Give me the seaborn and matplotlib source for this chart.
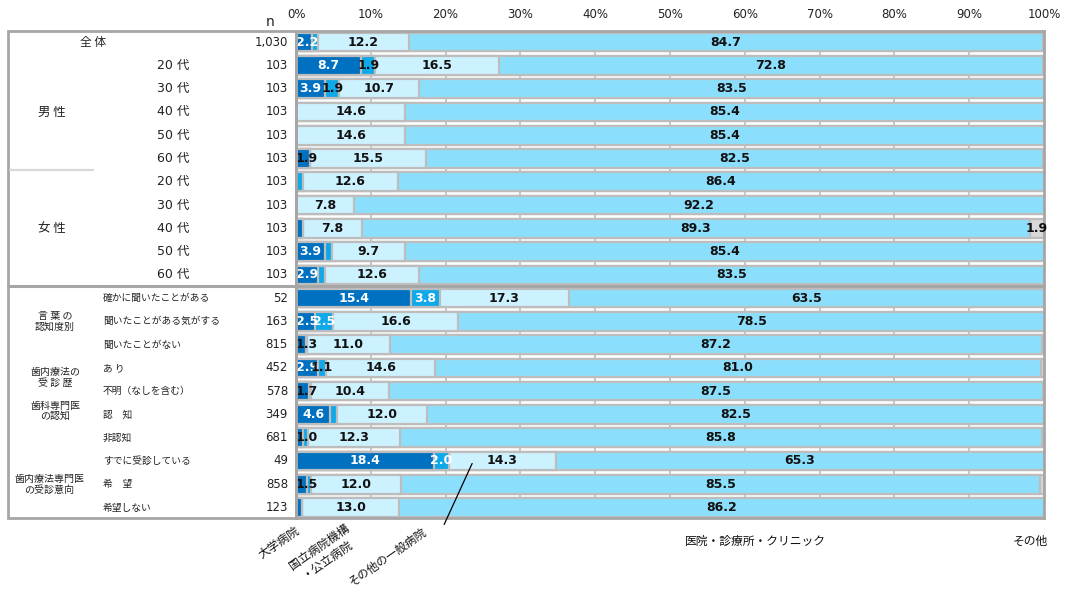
import numpy as np
import pandas as pd
import seaborn as sns
import matplotlib.pyplot as plt
from matplotlib.lines import Line2D
from matplotlib.patches import Rectangle
from matplotlib.transforms import blended_transform_factory

# ---- data -------------------------------------------------------------
segments = ["大学病院", "国立病院機構・公立病院", "その他の一般病院",
            "医院・診療所・クリニック", "その他"]

row_labels = ["全 体",
              "20 代", "30 代", "40 代", "50 代", "60 代",
              "20 代", "30 代", "40 代", "50 代", "60 代",
              "確かに聞いたことがある", "聞いたことがある気がする", "聞いたことがない",
              "あ り", "不明（なしを含む）",
              "認　知", "非認知",
              "すでに受診している", "希　望", "希望しない"]

n_values = ["1,030", "103", "103", "103", "103", "103",
            "103", "103", "103", "103", "103",
            "52", "163", "815", "452", "578", "349", "681", "49", "858", "123"]

univ = [2.2, 8.7, 3.9, 0, 0, 1.9, 0, 0, 0.97, 3.9, 2.9,
        15.4, 2.5, 1.3, 2.9, 1.7, 4.6, 1.0, 18.4, 1.5, 0.8]
natl = [0.7, 1.9, 1.9, 0, 0, 0, 0.97, 0, 0, 0.97, 0.97,
        3.8, 2.5, 0.2, 1.1, 0.3, 0.9, 0.6, 2.0, 0.5, 0]
general = [12.2, 16.5, 10.7, 14.6, 14.6, 15.5, 12.6, 7.8, 7.8, 9.7, 12.6,
           17.3, 16.6, 11.0, 14.6, 10.4, 12.0, 12.3, 14.3, 12.0, 13.0]
clinic = [84.7, 72.8, 83.5, 85.4, 85.4, 82.5, 86.4, 92.2, 89.3, 85.4, 83.5,
          63.5, 78.5, 87.2, 81.0, 87.5, 82.5, 85.8, 65.3, 85.5, 86.2]
other = [0.2, 0, 0, 0, 0, 0, 0, 0, 1.9, 0, 0,
         0, 0, 0.3, 0.4, 0, 0, 0.3, 0, 0.5, 0]

tick_labels = ["0%", "10%", "20%", "30%", "40%", "50%",
               "60%", "70%", "80%", "90%", "100%"]

colors = ["#0070C0", "#0FA8E8", "#CCF1FF", "#8CDFFC", "#D9D9D9"]
edge = "#BDBDBD"
frame = "#A6A6A6"

# ---- figure -----------------------------------------------------------
sns.set_theme(style="white")
plt.rcParams["font.family"] = ["Noto Sans CJK JP", "DejaVu Sans"]
num_font = ["DejaVu Sans", "Noto Sans CJK JP"]

W, H = 1069, 590
fig = plt.figure(figsize=(W / 100, H / 100), dpi=100)
ax = fig.add_axes([296 / W, 1 - 518 / H, (1044 - 296) / W, (518 - 31) / H])


def fx(px):
    return px / W


def fy(py):
    return 1 - py / H


df = pd.DataFrame({"row": np.arange(len(row_labels)),
                   segments[0]: univ, segments[1]: natl, segments[2]: general,
                   segments[3]: clinic, segments[4]: other})
vals = df[segments].to_numpy()
cum = vals.cumsum(axis=1)

# grid behind the bars
for xv in range(10, 100, 10):
    ax.axvline(xv, color=edge, lw=1.2, zorder=0)

# stacked bars: draw cumulative totals from the outermost segment inward
for k in range(len(segments) - 1, -1, -1):
    sns.barplot(x=cum[:, k], y=df["row"].astype(str), orient="h",
                order=df["row"].astype(str).tolist(),
                color=colors[k], saturation=1, errorbar=None, width=0.8,
                edgecolor=edge, linewidth=1.6, ax=ax, zorder=2)

# value labels (kept inside the plotting area at the left edge)
min_center = 1.45
for i in range(len(df)):
    left = 0.0
    for k in range(len(segments)):
        v = vals[i, k]
        if v >= 0.995:
            tc = "white" if (k < 2 and v >= 2.0) else "#111111"
            xc = max(left + v / 2, min_center)
            ax.text(xc, i, f"{v:.1f}", ha="center", va="center",
                    fontsize=9, fontweight="bold", color=tc,
                    family=num_font, zorder=5)
        left += v

ax.set_xlim(0, 100)
ax.set_ylim(len(df) - 0.55, -0.48)
ax.set_ylabel("")
ax.set_xlabel("")
ax.set_yticks([])
ax.xaxis.tick_top()
ax.set_xticks(np.arange(0, 101, 10))
ax.set_xticklabels(tick_labels, fontsize=8.5, family=num_font, color="#222222")
ax.tick_params(axis="x", length=0, pad=7)
for s in ax.spines.values():
    s.set_color(frame)
    s.set_linewidth(2)

# ---- left-hand table ---------------------------------------------------
tr = blended_transform_factory(fig.transFigure, ax.transData)
fig.add_artist(Rectangle((fx(8), fy(518)), fx(296) - fx(8), fy(31) - fy(518),
                         transform=fig.transFigure, fill=False,
                         edgecolor=frame, lw=2))
fig.add_artist(Line2D([fx(8), fx(1044)], [10.5, 10.5], transform=tr,
                      color=frame, lw=2.2))
fig.add_artist(Line2D([fx(10), fx(93)], [5.5, 5.5], transform=tr,
                      color="#D9D9D9", lw=1.6))

fig.text(fx(270), fy(22), "n", ha="center", va="center", fontsize=10,
         family=num_font, color="#222222")

for i, (lab, n) in enumerate(zip(row_labels, n_values)):
    fig.text(fx(288), i, n, transform=tr, ha="right", va="center",
             fontsize=8.5, family=num_font, color="#222222")
    if i == 0:
        fig.text(fx(93), i, lab, transform=tr, ha="center", va="center",
                 fontsize=8.5, color="#222222")
    elif i <= 10:
        fig.text(fx(157), i, lab, transform=tr, ha="left", va="center",
                 fontsize=9, family=num_font, color="#222222")
    else:
        fig.text(fx(103), i, lab, transform=tr, ha="left", va="center",
                 fontsize=7, color="#222222")

groups = [("男 性", 3, 52), ("女 性", 8, 52),
          ("言 葉 の\n認知度別", 12, 55), ("歯内療法の\n受 診 歴", 14.4, 55),
          ("歯科専門医\nの認知", 15.85, 55), ("歯内療法専門医\nの受診意向", 19, 49)]
for text, pos, xpx in groups:
    small = "\n" in text
    fig.text(fx(xpx), pos, text, transform=tr, ha="center", va="center",
             fontsize=7.2 if small else 9, linespacing=1.05, color="#222222")

# ---- segment names below the chart ------------------------------------
fig.text(fx(279), fy(543), "大学病院", rotation=35, ha="center", va="center",
         fontsize=8.5, color="#111111")
fig.text(fx(323), fy(553), "国立病院機構\n・公立病院", rotation=35, ha="center",
         va="center", fontsize=8.5, linespacing=1.1, color="#111111")
fig.text(fx(388), fy(557), "その他の一般病院", rotation=35, ha="center",
         va="center", fontsize=8.3, color="#111111")
fig.text(fx(755), fy(541), "医院・診療所・クリニック", ha="center", va="center",
         fontsize=8.5, color="#111111")
fig.text(fx(1030), fy(541), "その他", ha="center", va="center",
         fontsize=8.5, color="#111111")
ax.annotate("", xy=(23.7, 18), xycoords="data",
            xytext=(fx(443), fy(527)), textcoords="figure fraction",
            arrowprops=dict(arrowstyle="-", color="black", lw=0.9),
            annotation_clip=False, zorder=6)

fig.savefig("out.png", dpi=100)
